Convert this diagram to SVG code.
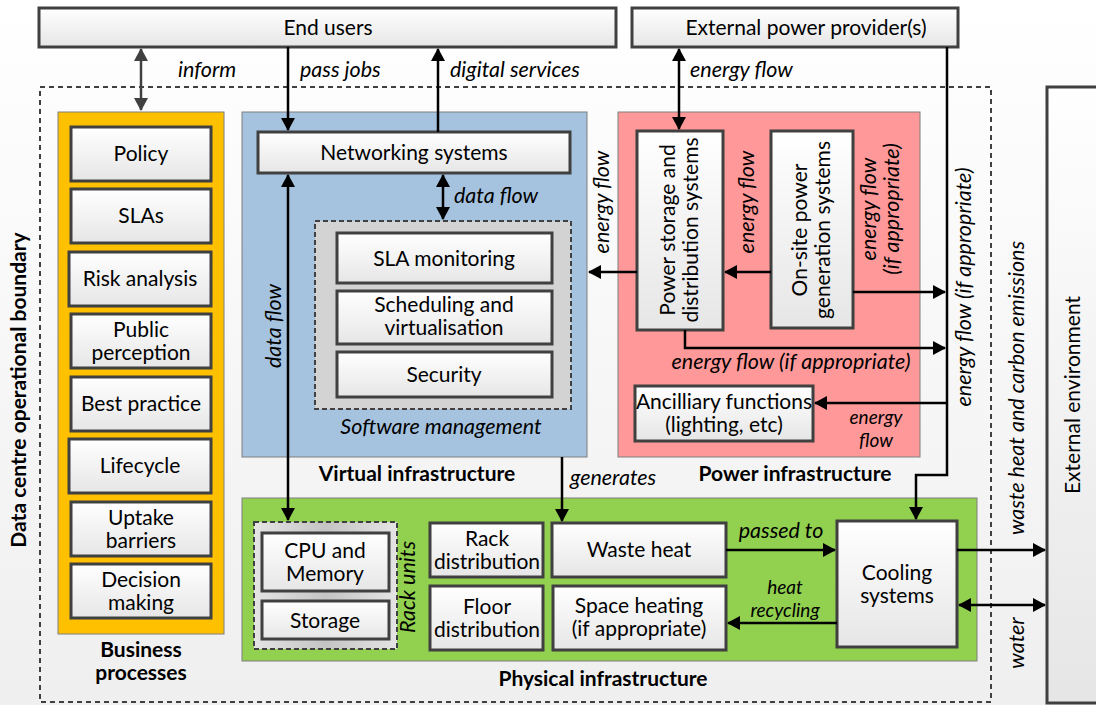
<svg xmlns="http://www.w3.org/2000/svg" width="1096" height="705" viewBox="0 0 1096 705">
<defs>
<linearGradient id="bg" x1="0" y1="0" x2="0" y2="1"><stop offset="0" stop-color="#ffffff"/><stop offset="1" stop-color="#efefef"/></linearGradient>
<linearGradient id="box" x1="0" y1="0" x2="0" y2="1"><stop offset="0" stop-color="#ffffff"/><stop offset="1" stop-color="#e6e6e6"/></linearGradient>
<linearGradient id="rack" x1="0" y1="0" x2="1" y2="0"><stop offset="0" stop-color="#e4e4e4"/><stop offset="0.5" stop-color="#c4c4c4"/><stop offset="1" stop-color="#e4e4e4"/></linearGradient>
<marker id="ah" markerUnits="userSpaceOnUse" markerWidth="14" markerHeight="14" refX="12" refY="7" orient="auto-start-reverse"><path d="M0,0 L13,7 L0,14 Z" fill="#000"/></marker>
<marker id="ahg" markerUnits="userSpaceOnUse" markerWidth="14" markerHeight="14" refX="12" refY="7" orient="auto-start-reverse"><path d="M0,0 L13,7 L0,14 Z" fill="#404040"/></marker>
<style>
.b{fill:url(#box);stroke:#404040;stroke-width:3}
.t{font-family:Lato,"Liberation Sans",sans-serif;font-size:21px;fill:#000;text-anchor:middle}
.i{font-family:Lato,"Liberation Sans",sans-serif;font-size:21.5px;font-style:italic;fill:#000}
.s{font-size:19px}
.h{font-family:Lato,"Liberation Sans",sans-serif;font-size:21px;font-weight:bold;fill:#000;text-anchor:middle}
.c{stroke:#000;stroke-width:2.5;fill:none}
.ct{stroke:#7f7f7f;stroke-width:1}
</style>
</defs>
<rect x="0" y="0" width="1096" height="705" fill="url(#bg)"/>
<g id="boundary">
<rect x="40" y="87" width="951" height="615" fill="none" stroke="#404040" stroke-width="2" stroke-dasharray="5,4"/>
<text class="h" transform="translate(26,390) rotate(-90)">Data centre operational boundary</text>
</g>
<g id="end-users"><rect class="b" x="39" y="8" width="577" height="39"/><text class="t" x="328" y="35">End users</text></g>
<g id="external-power"><rect class="b" x="632" y="8" width="326" height="39"/><text class="t" x="806" y="35">External power provider(s)</text></g>
<g id="external-environment"><rect class="b" x="1047" y="87" width="52" height="616"/><text class="t" transform="translate(1080,395) rotate(-90)">External environment</text></g>

<g id="business-processes">
<rect class="ct" x="58" y="112" width="166" height="522" fill="#FFC000"/>
<text class="h" x="141" y="657">Business</text><text class="h" x="141" y="680">processes</text>
</g>
<g id="policy"><rect class="b" x="71" y="127" width="140" height="54"/><text class="t" x="141" y="161">Policy</text></g>
<g id="slas"><rect class="b" x="71" y="189" width="140" height="54"/><text class="t" x="141" y="223">SLAs</text></g>
<g id="risk-analysis"><rect class="b" x="69" y="252" width="142" height="54"/><text class="t" x="140" y="286">Risk analysis</text></g>
<g id="public-perception"><rect class="b" x="71" y="314" width="140" height="54"/><text class="t" x="141" y="337">Public</text><text class="t" x="141" y="360">perception</text></g>
<g id="best-practice"><rect class="b" x="71" y="377" width="140" height="54"/><text class="t" x="141" y="411">Best practice</text></g>
<g id="lifecycle"><rect class="b" x="69" y="439" width="142" height="54"/><text class="t" x="140" y="473">Lifecycle</text></g>
<g id="uptake-barriers"><rect class="b" x="71" y="502" width="140" height="54"/><text class="t" x="141" y="525">Uptake</text><text class="t" x="141" y="548">barriers</text></g>
<g id="decision-making"><rect class="b" x="71" y="564" width="140" height="54"/><text class="t" x="141" y="587">Decision</text><text class="t" x="141" y="610">making</text></g>

<g id="virtual-infrastructure">
<rect class="ct" x="242" y="112" width="345" height="345" fill="#A5C3DE"/>
<text class="h" x="417" y="481">Virtual infrastructure</text>
</g>
<g id="networking-systems"><rect class="b" x="258" y="132" width="312" height="41"/><text class="t" x="414" y="160">Networking systems</text></g>
<g id="software-management">
<rect x="315" y="221" width="256" height="188" fill="#D3D3D3" stroke="#404040" stroke-width="2" stroke-dasharray="5,3"/>
<text class="i" x="441" y="434" text-anchor="middle">Software management</text>
</g>
<g id="sla-monitoring"><rect class="b" x="337" y="233" width="215" height="50"/><text class="t" x="444" y="266">SLA monitoring</text></g>
<g id="scheduling"><rect class="b" x="337" y="291" width="215" height="53"/><text class="t" x="444" y="312">Scheduling and</text><text class="t" x="444" y="335">virtualisation</text></g>
<g id="security"><rect class="b" x="337" y="352" width="215" height="45"/><text class="t" x="444" y="382">Security</text></g>

<g id="power-infrastructure">
<rect class="ct" x="618" y="112" width="302" height="345" fill="#FF9999"/>
<text class="h" x="795" y="481">Power infrastructure</text>
</g>
<g id="power-storage"><rect class="b" x="637" y="131" width="86" height="199"/><text class="t" transform="translate(680,230) rotate(-90)"><tspan x="0" y="-5">Power storage and</tspan><tspan x="0" y="18">distribution systems</tspan></text></g>
<g id="onsite-power"><rect class="b" x="771" y="131" width="82" height="197"/><text class="t" transform="translate(812,230) rotate(-90)"><tspan x="0" y="-5">On-site power</tspan><tspan x="0" y="18">generation systems</tspan></text></g>
<g id="ancilliary"><rect class="b" x="635" y="386" width="178" height="55"/><text class="t" x="724" y="409">Ancilliary functions</text><text class="t" x="724" y="432">(lighting, etc)</text></g>

<g id="physical-infrastructure">
<rect class="ct" x="242" y="498" width="735" height="163" fill="#92D050"/>
<text class="h" x="603" y="686">Physical infrastructure</text>
</g>
<g id="rack-units">
<rect x="254" y="522" width="143" height="127" fill="url(#rack)" stroke="#404040" stroke-width="2" stroke-dasharray="5,3"/>
<text class="i" transform="translate(415,587) rotate(-90)" text-anchor="middle">Rack units</text>
</g>
<g id="cpu-memory"><rect class="b" x="262" y="533" width="127" height="58"/><text class="t" x="325" y="558">CPU and</text><text class="t" x="325" y="581">Memory</text></g>
<g id="storage"><rect class="b" x="262" y="601" width="127" height="38"/><text class="t" x="325" y="628">Storage</text></g>
<g id="rack-distribution"><rect class="b" x="430" y="523" width="113" height="54"/><text class="t" x="487" y="546">Rack</text><text class="t" x="487" y="569">distribution</text></g>
<g id="floor-distribution"><rect class="b" x="430" y="586" width="113" height="64"/><text class="t" x="487" y="614">Floor</text><text class="t" x="487" y="637">distribution</text></g>
<g id="waste-heat"><rect class="b" x="552" y="523" width="174" height="54"/><text class="t" x="639" y="557">Waste heat</text></g>
<g id="space-heating"><rect class="b" x="553" y="586" width="173" height="64"/><text class="t" x="639" y="613">Space heating</text><text class="t" x="639" y="636">(if appropriate)</text></g>
<g id="cooling-systems"><rect class="b" x="837" y="521" width="120" height="126"/><text class="t" x="897" y="580">Cooling</text><text class="t" x="897" y="603">systems</text></g>

<g id="connectors">
<line x1="141" y1="49" x2="141" y2="110" stroke="#404040" stroke-width="2.5" marker-start="url(#ahg)" marker-end="url(#ahg)"/>
<line class="c" x1="288" y1="47" x2="288" y2="130" marker-end="url(#ah)"/>
<line class="c" x1="438" y1="132" x2="438" y2="49" marker-end="url(#ah)"/>
<line class="c" x1="679" y1="49" x2="679" y2="129" marker-start="url(#ah)" marker-end="url(#ah)"/>
<line class="c" x1="443" y1="175" x2="443" y2="219" marker-start="url(#ah)" marker-end="url(#ah)"/>
<line class="c" x1="288" y1="175" x2="288" y2="520" marker-start="url(#ah)" marker-end="url(#ah)"/>
<line class="c" x1="637" y1="272" x2="589" y2="272" marker-end="url(#ah)"/>
<line class="c" x1="771" y1="272" x2="725" y2="272" marker-end="url(#ah)"/>
<line class="c" x1="853" y1="292" x2="945" y2="292" marker-end="url(#ah)"/>
<polyline class="c" points="685,330 685,348 945,348" marker-end="url(#ah)"/>
<line class="c" x1="947" y1="403" x2="815" y2="403" marker-end="url(#ah)"/>
<polyline class="c" points="947,47 947,475 916,475 916,519" marker-end="url(#ah)"/>
<line class="c" x1="562" y1="457" x2="562" y2="521" marker-end="url(#ah)"/>
<line class="c" x1="726" y1="550" x2="835" y2="550" marker-end="url(#ah)"/>
<line class="c" x1="837" y1="623" x2="728" y2="623" marker-end="url(#ah)"/>
<line class="c" x1="957" y1="550" x2="1045" y2="550" marker-end="url(#ah)"/>
<line class="c" x1="959" y1="605" x2="1045" y2="605" marker-start="url(#ah)" marker-end="url(#ah)"/>
<text class="i" x="178" y="77">inform</text>
<text class="i" x="300" y="77">pass jobs</text>
<text class="i" x="450" y="77">digital services</text>
<text class="i" x="690" y="77">energy flow</text>
<text class="i" x="454" y="203">data flow</text>
<text class="i" transform="translate(281,326) rotate(-90)" text-anchor="middle">data flow</text>
<text class="i" transform="translate(609,202) rotate(-90)" text-anchor="middle">energy flow</text>
<text class="i" transform="translate(754,202) rotate(-90)" text-anchor="middle">energy flow</text>
<text class="i" transform="translate(876,209) rotate(-90)" text-anchor="middle"><tspan x="0" y="0">energy flow</tspan><tspan x="0" y="23">(if appropriate)</tspan></text>
<text class="i" x="791" y="369" text-anchor="middle">energy flow (if appropriate)</text>
<text class="i s" x="876" y="424" text-anchor="middle">energy</text>
<text class="i s" x="876" y="447" text-anchor="middle">flow</text>
<text class="i" transform="translate(971,287) rotate(-90)" text-anchor="middle">energy flow (if appropriate)</text>
<text class="i" x="570" y="485">generates</text>
<text class="i" x="781" y="538" text-anchor="middle">passed to</text>
<text class="i s" x="785" y="594" text-anchor="middle">heat</text>
<text class="i s" x="785" y="617" text-anchor="middle">recycling</text>
<text class="i" transform="translate(1024,388) rotate(-90)" text-anchor="middle">waste heat and carbon emissions</text>
<text class="i" transform="translate(1024,643) rotate(-90)" text-anchor="middle">water</text>
</g>
</svg>
